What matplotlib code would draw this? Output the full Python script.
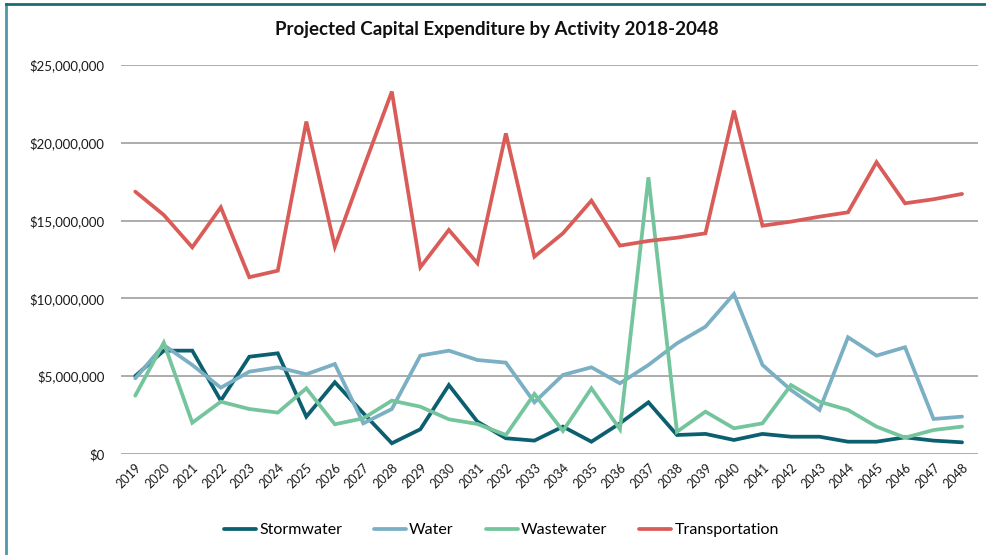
import matplotlib
matplotlib.use("Agg")
import matplotlib.pyplot as plt
from matplotlib.lines import Line2D
from matplotlib.ticker import FuncFormatter

years = [str(y) for y in range(2019, 2049)]

stormwater = [5.01, 6.64, 6.64, 3.43, 6.25, 6.47, 2.40, 4.61, 2.62, 0.69,
              1.59, 4.43, 2.08, 1.01, 0.86, 1.76, 0.79, 1.97, 3.32, 1.22,
              1.29, 0.90, 1.29, 1.11, 1.11, 0.79, 0.79, 1.07, 0.86, 0.75]
water = [4.86, 7.00, 5.72, 4.26, 5.29, 5.57, 5.12, 5.78, 1.97, 2.89,
         6.32, 6.64, 6.04, 5.87, 3.32, 5.08, 5.57, 4.54, 5.72, 7.11,
         8.18, 10.28, 5.72, 4.11, 2.83, 7.50, 6.32, 6.86, 2.25, 2.40]
wastewater = [3.75, 7.15, 2.01, 3.36, 2.89, 2.66, 4.22, 1.91, 2.29, 3.43,
              3.04, 2.23, 1.93, 1.22, 3.86, 1.48, 4.22, 1.59, 17.78, 1.43,
              2.72, 1.65, 1.97, 4.43, 3.36, 2.83, 1.76, 1.05, 1.54, 1.76]
transportation = [16.86, 15.36, 13.28, 15.85, 11.36, 11.78, 21.36, 13.32, 18.36, 23.29,
                  12.00, 14.40, 12.26, 20.60, 12.68, 14.18, 16.28, 13.39, 13.69, 13.90,
                  14.18, 22.06, 14.67, 14.93, 15.25, 15.53, 18.75, 16.11, 16.37, 16.71]

series_names = ["Stormwater", "Water", "Wastewater", "Transportation"]
series_values = [stormwater, water, wastewater, transportation]
colors = ["#0b5f6f", "#7aafc4", "#74c59d", "#d95c58"]
yticks = [0, 5e6, 10e6, 15e6, 20e6, 25e6]

plt.rcParams['font.family'] = ['Lato', 'DejaVu Sans']

fig = plt.figure(figsize=(9.87, 5.55), dpi=100)
ax = fig.add_axes([0.1226, 0.182, 0.868, 0.701])

x = list(range(len(years)))
for name, vals, c in zip(series_names, series_values, colors):
    ax.plot(x, [v * 1e6 for v in vals], color=c, lw=2.7, label=name,
            solid_joinstyle='miter', solid_capstyle='round', zorder=3)

ax.set_ylim(0, 25e6)
ax.set_xlim(-0.5, len(years) - 0.45)
ax.set_yticks(yticks)
ax.yaxis.set_major_formatter(FuncFormatter(lambda v, p: "${:,.0f}".format(v)))
ax.set_xticks(x)
ax.set_xticklabels(years, rotation=45, ha='right', rotation_mode='anchor')
ax.tick_params(axis='both', length=0, colors='#1a1a1a')
ax.tick_params(axis='y', pad=12, labelsize=9.5)
ax.tick_params(axis='x', pad=5, labelsize=9)
ax.grid(axis='y', color='#a6a6a6', lw=1.3, zorder=0)
for s in ax.spines.values():
    s.set_visible(False)

fig.suptitle("Projected Capital Expenditure by Activity 2018-2048",
             x=0.503, y=0.962, fontsize=13.5, fontweight='bold', color='#111111')

fig.legend(loc='center', bbox_to_anchor=(0.508, 0.045), ncol=4, frameon=False,
           fontsize=11.5, handlelength=2.0, columnspacing=2.0, handletextpad=0.2)

# figure frame lines
fig.add_artist(Line2D([0.0065, 0.0065], [0, 0.993], transform=fig.transFigure,
                      color='#4f97a8', lw=2))
fig.add_artist(Line2D([0.0065, 1.0], [0.993, 0.993], transform=fig.transFigure,
                      color='#1d6a78', lw=2))

fig.savefig("out.png", dpi=100)
